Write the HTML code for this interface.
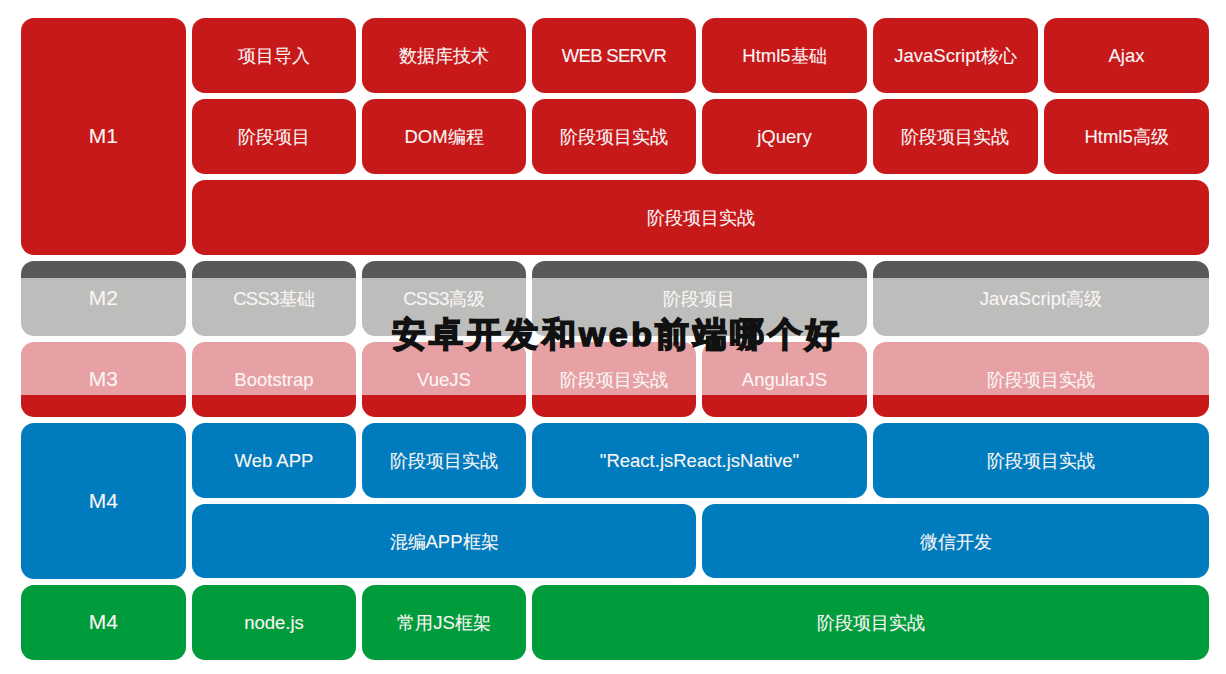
<!DOCTYPE html>
<html><head><meta charset="utf-8">
<style>
html,body{margin:0;padding:0;background:#fff;}
body{width:1226px;height:674px;position:relative;overflow:hidden;font-family:"Liberation Sans",sans-serif;}
.b{position:absolute;border-radius:13px;display:flex;align-items:center;justify-content:center;color:#faf6f5;font-size:18px;overflow:hidden;box-sizing:border-box;}
.b span{position:relative;top:1px;white-space:nowrap;-webkit-text-stroke:0.1px #faf6f5;}
.b i{font-style:normal;font-size:18.5px;}
.b span.m{font-size:21px;top:0;}
.b i.u{letter-spacing:-0.7px;}
.r{background:#c7181a;}
.g{background:linear-gradient(to bottom,#5a5957 0,#5a5957 17px,#bdbdbc 17px);}
.p{background:linear-gradient(to top,#c7181a 0,#c7181a 22px,#e7a0a3 22px);}
.bl{background:#007bbd;}
.gr{background:#009c3b;}
.title{position:absolute;left:392px;top:317px;font-size:34px;font-weight:900;color:#111;white-space:nowrap;line-height:1;-webkit-text-stroke:1.6px #111;letter-spacing:3.4px;}
</style></head><body>
<div class="b r" style="left:21.10px;top:18.00px;width:164.70px;height:236.70px"><span class="m">M1</span></div>
<div class="b r" style="left:192.15px;top:18.00px;width:163.65px;height:74.70px"><span>项目导入</span></div>
<div class="b r" style="left:362.15px;top:18.00px;width:163.65px;height:74.70px"><span>数据库技术</span></div>
<div class="b r" style="left:532.15px;top:18.00px;width:163.75px;height:74.70px"><span><i class="u">WEB SERVR</i></span></div>
<div class="b r" style="left:702.20px;top:18.00px;width:164.60px;height:74.70px"><span><i>Html5</i>基础</span></div>
<div class="b r" style="left:873.05px;top:18.00px;width:164.75px;height:74.70px"><span><i>JavaScript</i>核心</span></div>
<div class="b r" style="left:1044.20px;top:18.00px;width:164.70px;height:74.70px"><span><i>Ajax</i></span></div>
<div class="b r" style="left:192.15px;top:99.20px;width:163.65px;height:74.50px"><span>阶段项目</span></div>
<div class="b r" style="left:362.15px;top:99.20px;width:163.65px;height:74.50px"><span><i>DOM</i>编程</span></div>
<div class="b r" style="left:532.15px;top:99.20px;width:163.75px;height:74.50px"><span>阶段项目实战</span></div>
<div class="b r" style="left:702.20px;top:99.20px;width:164.60px;height:74.50px"><span><i>jQuery</i></span></div>
<div class="b r" style="left:873.05px;top:99.20px;width:164.75px;height:74.50px"><span>阶段项目实战</span></div>
<div class="b r" style="left:1044.20px;top:99.20px;width:164.70px;height:74.50px"><span><i>Html5</i>高级</span></div>
<div class="b r" style="left:192.15px;top:180.20px;width:1016.75px;height:74.50px"><span>阶段项目实战</span></div>
<div class="b g" style="left:21.10px;top:261.00px;width:164.70px;height:74.70px"><span class="m">M2</span></div>
<div class="b g" style="left:192.15px;top:261.00px;width:163.65px;height:74.70px"><span><i class="u">CSS3</i>基础</span></div>
<div class="b g" style="left:362.15px;top:261.00px;width:163.65px;height:74.70px"><span><i class="u">CSS3</i>高级</span></div>
<div class="b g" style="left:532.15px;top:261.00px;width:334.65px;height:74.70px"><span>阶段项目</span></div>
<div class="b g" style="left:873.05px;top:261.00px;width:335.85px;height:74.70px"><span><i>JavaScript</i>高级</span></div>
<div class="b p" style="left:21.10px;top:342.00px;width:164.70px;height:74.70px"><span class="m">M3</span></div>
<div class="b p" style="left:192.15px;top:342.00px;width:163.65px;height:74.70px"><span><i>Bootstrap</i></span></div>
<div class="b p" style="left:362.15px;top:342.00px;width:163.65px;height:74.70px"><span><i>VueJS</i></span></div>
<div class="b p" style="left:532.15px;top:342.00px;width:163.75px;height:74.70px"><span>阶段项目实战</span></div>
<div class="b p" style="left:702.20px;top:342.00px;width:164.60px;height:74.70px"><span><i>AngularJS</i></span></div>
<div class="b p" style="left:873.05px;top:342.00px;width:335.85px;height:74.70px"><span>阶段项目实战</span></div>
<div class="b bl" style="left:21.10px;top:423.00px;width:164.70px;height:155.50px"><span class="m">M4</span></div>
<div class="b bl" style="left:192.15px;top:423.00px;width:163.65px;height:74.60px"><span><i>Web APP</i></span></div>
<div class="b bl" style="left:362.15px;top:423.00px;width:163.65px;height:74.60px"><span>阶段项目实战</span></div>
<div class="b bl" style="left:532.15px;top:423.00px;width:334.65px;height:74.60px"><span><i>"React.jsReact.jsNative"</i></span></div>
<div class="b bl" style="left:873.05px;top:423.00px;width:335.85px;height:74.60px"><span>阶段项目实战</span></div>
<div class="b bl" style="left:192.15px;top:504.20px;width:503.75px;height:74.30px"><span>混编<i>APP</i>框架</span></div>
<div class="b bl" style="left:702.20px;top:504.20px;width:506.70px;height:74.30px"><span>微信开发</span></div>
<div class="b gr" style="left:21.10px;top:585.20px;width:164.70px;height:74.60px"><span class="m">M4</span></div>
<div class="b gr" style="left:192.15px;top:585.20px;width:163.65px;height:74.60px"><span><i>node.js</i></span></div>
<div class="b gr" style="left:362.15px;top:585.20px;width:163.65px;height:74.60px"><span>常用<i>JS</i>框架</span></div>
<div class="b gr" style="left:532.15px;top:585.20px;width:676.75px;height:74.60px"><span>阶段项目实战</span></div>
<div class="title">安卓开发和web前端哪个好</div>
</body></html>
